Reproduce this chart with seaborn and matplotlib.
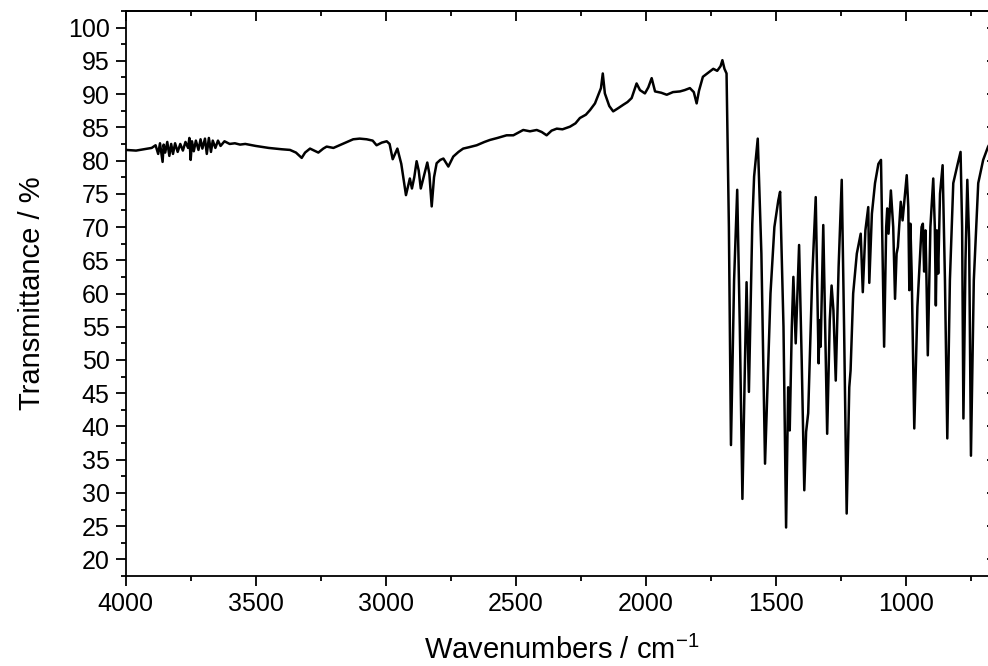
import matplotlib
matplotlib.use("Agg")
import matplotlib.pyplot as plt
from matplotlib.ticker import MultipleLocator
import seaborn as sns
import pandas as pd

# FTIR transmittance spectrum, wavenumber (cm^-1) vs transmittance (%)
wavenumber = [
    4000, 3960, 3930, 3900, 3885, 3875, 3868, 3862, 3858, 3854, 3848, 3840,
    3832, 3825, 3818, 3810, 3800, 3790, 3780, 3770, 3760, 3755, 3750, 3745,
    3738, 3730, 3720, 3712, 3705, 3695, 3688, 3680, 3672, 3665, 3655, 3645,
    3635, 3620, 3600, 3580, 3560, 3540, 3500, 3450, 3400, 3368, 3345, 3323,
    3310, 3291, 3275, 3259, 3240, 3227, 3201, 3160, 3125, 3100, 3073, 3050,
    3035, 3015, 2996, 2985, 2973, 2964, 2955, 2940, 2922, 2915, 2907, 2899,
    2890, 2881, 2873, 2865, 2852, 2840, 2832, 2823, 2814, 2804, 2790, 2778,
    2759, 2740, 2720, 2702, 2680, 2650, 2620, 2599, 2570, 2535, 2509, 2490,
    2471, 2445, 2419, 2400, 2381, 2362, 2342, 2320, 2291, 2270, 2253, 2230,
    2214, 2195, 2182, 2172, 2165, 2157, 2140, 2125, 2105, 2086, 2070, 2054,
    2035, 2022, 2003, 1990, 1977, 1964, 1940, 1919, 1895, 1868, 1850, 1830,
    1815, 1804, 1795, 1780, 1760, 1740, 1725, 1712, 1705, 1697, 1689, 1680,
    1672, 1660, 1648, 1638, 1628, 1619, 1612, 1603, 1590, 1583, 1569, 1555,
    1541, 1520, 1505, 1490, 1483, 1470, 1460, 1455, 1452, 1446, 1438, 1432,
    1423, 1410, 1400, 1390, 1383, 1375, 1360, 1346, 1335, 1331, 1327, 1317,
    1302, 1292, 1285, 1278, 1269, 1258, 1246, 1237, 1227, 1217, 1212, 1202,
    1188, 1173, 1165, 1155, 1144, 1140, 1130, 1118, 1105, 1095, 1083, 1075,
    1071, 1066, 1057, 1048, 1041, 1035, 1030, 1019, 1012, 1005, 996, 990,
    986, 982, 977, 967, 955, 939, 934, 929, 924, 920, 915, 905,
    894, 888, 884, 880, 875, 868, 858, 849, 840, 830, 817, 800,
    789, 783, 778, 770, 763, 756, 749, 738, 721, 702, 683, 665, 650,
]
transmittance = [
    81.6, 81.5, 81.7, 81.9, 82.3, 81.0, 82.6, 80.9, 79.8, 82.4, 81.2, 82.8,
    80.7, 82.5, 81.0, 82.6, 81.3, 82.5, 81.5, 82.8, 81.9, 83.4, 80.1, 82.9,
    81.4, 83.0, 81.6, 83.2, 81.8, 83.3, 81.0, 83.4, 81.3, 83.0, 81.9, 83.0,
    82.2, 82.9, 82.5, 82.6, 82.4, 82.5, 82.2, 81.9, 81.7, 81.6, 81.2, 80.4,
    81.2, 81.8, 81.5, 81.2, 81.8, 82.1, 81.9, 82.6, 83.2, 83.3, 83.2, 83.0,
    82.3, 82.7, 82.9, 82.5, 80.2, 81.0, 81.8, 79.5, 74.8, 76.0, 77.3, 75.8,
    77.5, 79.9, 78.5, 75.8, 77.8, 79.7, 78.0, 73.1, 77.5, 79.6, 80.1, 80.3,
    79.1, 80.6, 81.3, 81.8, 82.0, 82.3, 82.8, 83.1, 83.4, 83.8, 83.8, 84.2,
    84.6, 84.4, 84.6, 84.3, 83.8, 84.5, 84.8, 84.7, 85.1, 85.6, 86.4, 86.9,
    87.6, 88.6, 89.9, 90.9, 93.1, 90.1, 88.2, 87.4, 87.9, 88.4, 88.8, 89.4,
    91.6, 90.6, 90.1, 91.0, 92.4, 90.4, 90.2, 89.9, 90.3, 90.4, 90.6, 90.9,
    90.3, 88.6, 90.5, 92.6, 93.2, 93.8, 93.5, 94.2, 95.1, 93.8, 93.1, 70.0,
    37.2, 62.0, 75.6, 55.0, 29.1, 48.0, 61.7, 45.2, 70.5, 77.6, 83.3, 66.0,
    34.4, 60.0, 70.0, 74.0, 75.3, 55.0, 24.8, 38.0, 45.9, 39.4, 55.0, 62.5,
    52.5, 67.3, 50.0, 30.4, 39.2, 42.0, 62.0, 74.5, 49.5, 56.0, 52.0, 70.3,
    38.9, 56.0, 61.2, 57.5, 46.9, 64.0, 77.1, 55.0, 26.9, 45.9, 48.4, 60.0,
    66.0, 69.0, 60.2, 69.5, 73.0, 61.6, 72.0, 76.6, 79.5, 80.1, 52.0, 70.0,
    72.8, 69.0, 75.5, 70.0, 59.2, 66.0, 67.0, 73.8, 71.0, 74.0, 77.8, 73.0,
    60.5, 70.5, 63.0, 39.7, 58.0, 70.0, 70.5, 63.3, 69.5, 62.0, 50.7, 70.0,
    77.3, 70.0, 58.2, 69.5, 63.0, 75.0, 79.3, 62.0, 38.2, 62.0, 76.6, 79.5,
    81.3, 70.0, 41.2, 65.0, 77.1, 68.0, 35.6, 62.0, 76.6, 80.1, 82.1, 83.3, 84.0,
]

x_ticks = [4000, 3500, 3000, 2500, 2000, 1500, 1000]
y_ticks = list(range(20, 101, 5))

spectrum = pd.DataFrame({"wavenumber": wavenumber, "transmittance": transmittance})

sns.set_style("ticks")
plt.rcParams["font.family"] = ["Liberation Sans", "DejaVu Sans"]
plt.rcParams["mathtext.fontset"] = "custom"
plt.rcParams["mathtext.rm"] = "Liberation Sans"
plt.rcParams["text.color"] = "black"
plt.rcParams["axes.labelcolor"] = "black"
plt.rcParams["xtick.color"] = "black"
plt.rcParams["ytick.color"] = "black"

fig = plt.figure(figsize=(9.88, 6.66), dpi=100)
ax = fig.add_axes([0.1272, 0.1351, 1.0088 - 0.1272, 0.9835 - 0.1351])

sns.lineplot(data=spectrum, x="wavenumber", y="transmittance", sort=False,
             color="black", linewidth=1.8, ax=ax, estimator=None)

ax.set_xlim(4000, 650)
ax.set_ylim(17.5, 102.5)
ax.set_xticks(x_ticks)
ax.set_yticks(y_ticks)
ax.xaxis.set_minor_locator(MultipleLocator(250))
ax.yaxis.set_minor_locator(MultipleLocator(2.5))

for side in ["left", "right", "top", "bottom"]:
    ax.spines[side].set_visible(True)
    ax.spines[side].set_linewidth(1.3)
    ax.spines[side].set_color("black")

ax.tick_params(axis="both", which="major", length=7.5, width=1.3,
               labelsize=18, colors="black", labelcolor="black", pad=4)
ax.tick_params(axis="both", which="minor", length=3.8, width=1.3, colors="black")
ax.tick_params(axis="x", which="both", direction="out", bottom=True)
ax.tick_params(axis="y", which="both", direction="out", left=True)

# mirrored ticks on the top and right edges, pointing inward
top = ax.secondary_xaxis("top")
top.set_xticks(x_ticks)
top.xaxis.set_minor_locator(MultipleLocator(250))
top.tick_params(which="both", direction="in", labeltop=False, width=1.3, colors="black")
top.tick_params(which="major", length=7.5)
top.tick_params(which="minor", length=3.8)
top.spines["top"].set_linewidth(1.3)
top.spines["top"].set_color("black")

right = ax.secondary_yaxis("right")
right.set_yticks(y_ticks)
right.yaxis.set_minor_locator(MultipleLocator(2.5))
right.tick_params(which="both", direction="in", labelright=False, width=1.3, colors="black")
right.tick_params(which="major", length=7.5)
right.tick_params(which="minor", length=3.8)

ax.set_xlabel("Wavenumbers / cm$^{-1}$", fontsize=21, labelpad=14, color="black")
ax.set_ylabel("Transmittance / %", fontsize=21, labelpad=16, color="black")

fig.savefig("out.png", dpi=100)
